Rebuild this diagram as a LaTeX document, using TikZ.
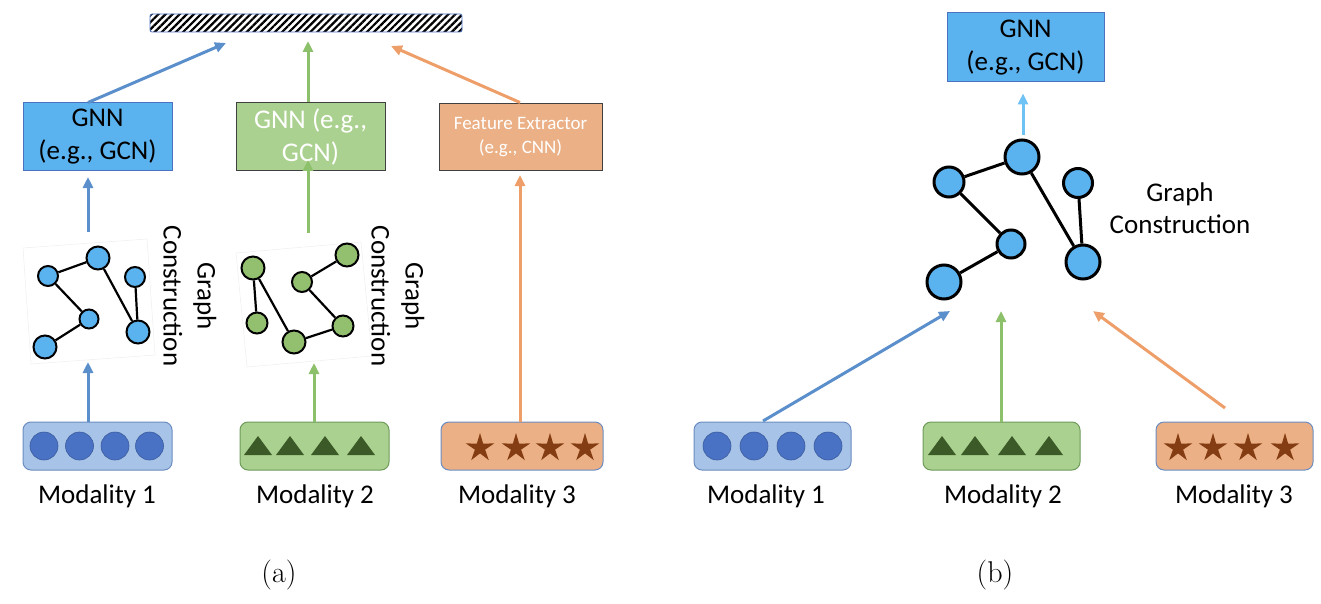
\documentclass[tikz,border=0pt]{standalone}
\usepackage{fontspec}
\newfontfamily\sansf{Carlito}
\usetikzlibrary{arrows.meta,patterns.meta,shapes.geometric}
\definecolor{gnnblue}{HTML}{5AB2EE}
\definecolor{gnnborder}{HTML}{4A72C0}
\definecolor{arrblue}{HTML}{5B8FCB}
\definecolor{arrlight}{HTML}{6EC3F4}
\definecolor{arrgreen}{HTML}{8DC06A}
\definecolor{arrorange}{HTML}{EE9E68}
\definecolor{boxgreen}{HTML}{AAD18F}
\definecolor{boxorange}{HTML}{EBB085}
\definecolor{nodegreen}{HTML}{92C06E}
\definecolor{mfill}{HTML}{A7C4E8}
\definecolor{mcirc}{HTML}{4A72C4}
\definecolor{mborder}{HTML}{6B8CC0}
\definecolor{m2border}{HTML}{6E9A5A}
\definecolor{trigreen}{HTML}{3B5A27}
\definecolor{starbrown}{HTML}{843C12}
\definecolor{darkborder}{HTML}{404040}
\begin{document}
\begin{tikzpicture}[x=1pt,y=-1pt,
  arr/.style={line width=3pt,-{Triangle[length=11pt,width=10pt]}},
  gbox/.style={draw,line width=1pt,inner sep=0,align=center,font=\sansf\fontsize{27}{33}\selectfont},
  gnode/.style={circle,draw=black,line width=2pt,inner sep=0},
  bnode/.style={circle,draw=black,line width=3pt,inner sep=0,fill=gnnblue},
  gedge/.style={line width=2.2pt,black},
  bedge/.style={line width=3pt,black},
  modbox/.style={draw,rounded corners=8pt,line width=1pt,minimum height=48pt,inner sep=0},
  modlabel/.style={font=\sansf\fontsize{27}{33}\selectfont},
  gclabel/.style={font=\sansf\fontsize{27}{34}\selectfont,align=center},
  dot/.style={circle,fill=mcirc,draw=mcirc!80!black,line width=0.6pt,minimum size=28pt,inner sep=0},
  starnode/.style={star,star points=5,star point ratio=2.8,fill=starbrown,minimum size=30pt,inner sep=0},
  faint/.style={draw=black!6,line width=0.6pt},
  caption/.style={font=\fontsize{30}{36}\selectfont}
]
\useasboundingbox (0,0) rectangle (1321,604);

% ===================== panel (a) =====================
\node[draw=gnnborder,line width=0.8pt,rounded corners=2pt,minimum width=312pt,minimum height=18pt,inner sep=0,
      pattern={Lines[angle=45,distance=5pt,line width=2.2pt]},pattern color=black] (bar) at (306,23) {};

\node[gbox,fill=gnnblue,draw=gnnborder,minimum width=149pt,minimum height=68pt] (gnnA) at (97.5,137) {GNN\\(e.g., GCN)};
\node[gbox,fill=boxgreen,draw=darkborder,text=white,minimum width=149pt,minimum height=68pt] (gnnG) at (310.5,137) {GNN (e.g.,\\GCN)};
\node[gbox,fill=boxorange,draw=darkborder,text=white,minimum width=163pt,minimum height=67pt,font=\sansf\fontsize{19}{24}\selectfont] (feat) at (520.5,137.5) {Feature Extractor\\(e.g., CNN)};

\coordinate (tipA) at (226,43);
\coordinate (tipG) at (308,41);
\coordinate (tipO) at (391,46);
\draw[arr,arrblue] (gnnA.north -| 88,0) -- (tipA);
\draw[arr,arrgreen] (gnnG.north -| tipG) -- (tipG);
\draw[arr,arrorange] (gnnA.north -| 520,0) -- (tipO);

% blue graph (a)
\draw[faint] (23,248) -- (147,239) -- (155,355) -- (31,364) -- cycle;
\node[gnode,fill=gnnblue,minimum size=20pt] (a1) at (48,276) {};
\node[gnode,fill=gnnblue,minimum size=23pt] (a2) at (98,258) {};
\node[gnode,fill=gnnblue,minimum size=20pt] (a3) at (135,277) {};
\node[gnode,fill=gnnblue,minimum size=19pt] (a4) at (89,319) {};
\node[gnode,fill=gnnblue,minimum size=23pt] (a5) at (138,332) {};
\node[gnode,fill=gnnblue,minimum size=23pt] (a6) at (45,347) {};
\draw[gedge] (a1) -- (a2) (a1) -- (a4) (a4) -- (a6) (a2) -- (a5) (a3) -- (a5);
\node[gclabel,rotate=-90] (gcA) at (190,296) {Graph\\Construction};

% green graph (a)
\draw[faint] (236,253) -- (361,242) -- (372,356) -- (247,367) -- cycle;
\node[gnode,fill=nodegreen,minimum size=23pt] (g1) at (253,268) {};
\node[gnode,fill=nodegreen,minimum size=23pt] (g2) at (347,255) {};
\node[gnode,fill=nodegreen,minimum size=20pt] (g3) at (302,282) {};
\node[gnode,fill=nodegreen,minimum size=21pt] (g4) at (257,323) {};
\node[gnode,fill=nodegreen,minimum size=23pt] (g5) at (294,342) {};
\node[gnode,fill=nodegreen,minimum size=21pt] (g6) at (343,326) {};
\draw[gedge] (g1) -- (g4) (g1) -- (g5) (g5) -- (g6) (g6) -- (g3) (g3) -- (g2);
\node[gclabel,rotate=-90] (gcG) at (398,296) {Graph\\Construction};

% graph -> GNN arrows (a)
\coordinate (baS) at (88,232);
\coordinate (baE) at (88,177);
\draw[arr,arrblue] (baS) -- (baE);
\coordinate (bgS) at (308,233);
\coordinate (bgE) at (308,160);
\draw[arr,arrgreen] (bgS) -- (bgE);

% modality boxes (a)
\node[modbox,fill=mfill,draw=mborder,minimum width=149pt] (m1a) at (97.5,446) {};
\node[modbox,fill=boxgreen,draw=m2border,minimum width=149pt] (m2a) at (314.5,446) {};
\node[modbox,fill=boxorange,draw=mborder,minimum width=162pt] (m3a) at (522,446) {};
\foreach \x [count=\i] in {44,79.5,115,149.5} \node[dot] (ca\i) at (\x,446) {};
\foreach \x in {258,290,325,361} \fill[trigreen] (\x-14,455) -- (\x+14,455) -- (\x,436) -- cycle;
\foreach \x [count=\i] in {480,516,550,585} \node[starnode] (sa\i) at (\x,448) {};
\node[modlabel] (l1a) at (97,496) {Modality 1};
\node[modlabel] (l2a) at (315,496) {Modality 2};
\node[modlabel] (l3a) at (517,496) {Modality 3};

\coordinate (ua1) at (88,362);
\coordinate (ua2) at (314,363);
\coordinate (ua3) at (520,175);
\draw[arr,arrblue] (m1a.north -| ua1) -- (ua1);
\draw[arr,arrgreen] (m2a.north -| ua2) -- (ua2);
\draw[arr,arrorange] (m3a.north -| ua3) -- (ua3);

% ===================== panel (b) =====================
\node[gbox,fill=gnnblue,draw=gnnborder,minimum width=157pt,minimum height=69pt] (gnnB) at (1025.5,47.5) {GNN\\(e.g., GCN)};
\coordinate (lbS) at (1023,135);
\draw[arr,arrlight] (lbS) -- ([yshift=-11pt]gnnB.south -| lbS);

\node[bnode,minimum size=30pt] (b1) at (949,182) {};
\node[bnode,minimum size=34pt] (b2) at (1022,157) {};
\node[bnode,minimum size=29pt] (b3) at (1078,183) {};
\node[bnode,minimum size=28pt] (b4) at (1011,244) {};
\node[bnode,minimum size=34pt] (b5) at (1083,262) {};
\node[bnode,minimum size=34pt] (b6) at (944,282) {};
\draw[bedge] (b1) -- (b2) (b1) -- (b4) (b4) -- (b6) (b2) -- (b5) (b3) -- (b5);
\node[gclabel,font=\sansf\fontsize{27}{32}\selectfont] (gcB) at (1180,208) {Graph\\Construction};

\node[modbox,fill=mfill,draw=mborder,minimum width=157pt] (m1b) at (772.5,446) {};
\node[modbox,fill=boxgreen,draw=m2border,minimum width=157pt] (m2b) at (1001.5,446) {};
\node[modbox,fill=boxorange,draw=mborder,minimum width=157pt] (m3b) at (1234.5,446) {};
\foreach \x [count=\i] in {717,754,791,828} \node[dot] (cb\i) at (\x,446) {};
\foreach \x in {942,975,1012,1049} \fill[trigreen] (\x-14,455) -- (\x+14,455) -- (\x,436) -- cycle;
\foreach \x [count=\i] in {1178,1213,1248,1285} \node[starnode] (sb\i) at (\x,448) {};
\node[modlabel] (l1b) at (766,496) {Modality 1};
\node[modlabel] (l2b) at (1003,496) {Modality 2};
\node[modlabel] (l3b) at (1234,496) {Modality 3};

\coordinate (ub1s) at (763,421);
\coordinate (ub1) at (950,311);
\coordinate (ub2) at (1001,311);
\coordinate (ub3s) at (1225,408);
\coordinate (ub3) at (1093,311);
\draw[arr,arrblue] (ub1s) -- (ub1);
\draw[arr,arrgreen] (m2b.north -| ub2) -- (ub2);
\draw[arr,arrorange] (ub3s) -- (ub3);

% captions
\node[caption] (capa) at (279,575) {(a)};
\node[caption] (capb) at (995,575) {(b)};
\end{tikzpicture}
\end{document}
